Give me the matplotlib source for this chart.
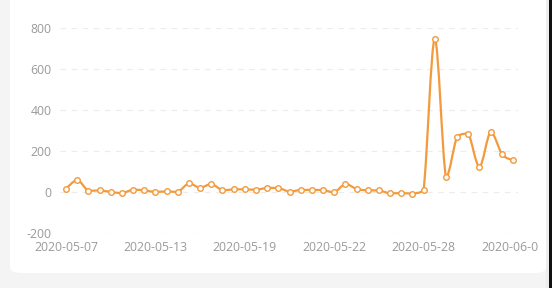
import numpy as np
import matplotlib
matplotlib.use("Agg")
import matplotlib.pyplot as plt
from matplotlib.path import Path
from matplotlib.patches import PathPatch, FancyBboxPatch, Rectangle

# ---- data ----
values = [15, 58, 5, 8, 0, -5, 11, 8, 0, 3, 0, 42, 21, 39, 8, 13, 13, 11, 20, 20,
          2, 10, 10, 10, -2, 39, 15, 8, 8, -7, -5, -8, 10, 747, 73, 270, 285, 124,
          293, 187, 156]
tick_idx = [0, 8, 16, 24, 32, 40]
tick_labels = ["2020-05-07", "2020-05-13", "2020-05-19", "2020-05-22",
               "2020-05-28", "2020-06-04"]
y_ticks = [-200, 0, 200, 400, 600, 800]

W, H, DPI = 552, 288, 100
LINE = "#f29a3c"
TXT = "#9a9a9a"
FONT = ["Open Sans", "DejaVu Sans"]

fig = plt.figure(figsize=(W / DPI, H / DPI), dpi=DPI)
fig.patch.set_facecolor("#f4f4f4")

# white card
card = FancyBboxPatch((10 / W, 15 / H), 536 / W, 290 / H,
                      boxstyle="round,pad=0,rounding_size=0.02",
                      transform=fig.transFigure, facecolor="white",
                      edgecolor="none", zorder=-5)
fig.patches.append(card)

ax = fig.add_axes([60 / W, (H - 233) / H, 458 / W, 205 / H])
ax.set_facecolor("none")
ax.set_xlim(-0.54, 40.45)
ax.set_ylim(-200, 800)
for s in ax.spines.values():
    s.set_visible(False)

ax.set_yticks(y_ticks)
ax.set_yticklabels([str(v) for v in y_ticks])
ax.set_xticks(tick_idx)
ax.set_xticklabels(tick_labels)
ax.tick_params(length=0, colors=TXT, labelsize=8.8)
ax.tick_params(axis="y", pad=6)
ax.tick_params(axis="x", pad=5.5)
for lab in ax.get_xticklabels() + ax.get_yticklabels():
    lab.set_family(FONT)
    lab.set_color(TXT)

for yv in y_ticks:
    ax.axhline(yv, color="#ececec", lw=0.8, ls=(0, (5, 5)), zorder=0)


def clamp(v, a, b):
    return min(max(v, min(a, b)), max(a, b))


# smoothed line: x-uniform bezier with clamped control points (no overshoot)
xs = np.arange(len(values), dtype=float)
ys = np.asarray(values, dtype=float)
k = 0.2
n = len(ys)
verts = [(xs[0], ys[0])]
codes = [Path.MOVETO]
for i in range(1, n):
    x0, y0 = xs[i - 1], ys[i - 1]
    x1, y1 = xs[i], ys[i]
    dx = x1 - x0
    t0 = (ys[i] - ys[i - 2]) if i - 2 >= 0 else 0.0
    t1 = (ys[i + 1] - ys[i - 1]) if i + 1 < n else 0.0
    c0 = (x0 + dx / 3 if i - 2 >= 0 else x0, clamp(y0 + t0 * k, y0, y1))
    c1 = (x1 - dx / 3 if i + 1 < n else x1, clamp(y1 - t1 * k, y0, y1))
    verts += [c0, c1, (x1, y1)]
    codes += [Path.CURVE4] * 3

path = Path(np.array(verts), codes)
ax.add_patch(PathPatch(path, facecolor="none", edgecolor=LINE, lw=1.6,
                       zorder=3, capstyle="round", joinstyle="round"))

ax.plot(xs, ys, ls="none", marker="o", ms=4.0, mfc="white", mec=LINE,
        mew=1.0, zorder=4, clip_on=False)

# chart canvas edge clips the last tick label
fig.patches.append(Rectangle((538 / W, 30 / H), 8 / W, 30 / H,
                             transform=fig.transFigure, facecolor="white",
                             edgecolor="none", zorder=10))
# right border area
fig.patches.append(Rectangle((546 / W, 0), 3 / W, 1, transform=fig.transFigure,
                             facecolor="#ededed", edgecolor="none", zorder=10))
fig.patches.append(Rectangle((549 / W, 0), 3 / W, 1, transform=fig.transFigure,
                             facecolor="#111111", edgecolor="none", zorder=10))

fig.savefig("out.png", dpi=DPI, facecolor=fig.get_facecolor())
